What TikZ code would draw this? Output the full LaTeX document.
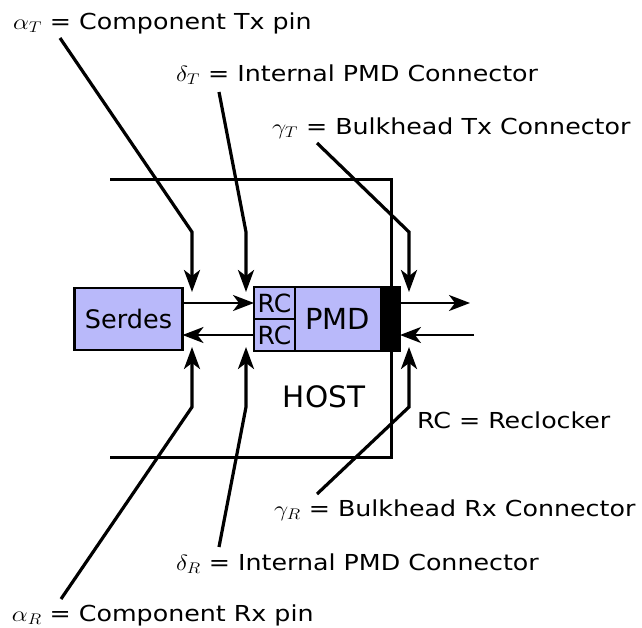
\RequirePackage{fix-cm}
\documentclass[tikz,border=0pt]{standalone}
\usepackage{fontspec}
\setmainfont{DejaVu Sans}
\usetikzlibrary{arrows.meta,positioning}
\definecolor{pmdblue}{RGB}{185,185,250}
\newcommand\widetext[1]{\scalebox{1.15}[1]{#1}}
\begin{document}
\begin{tikzpicture}[x=1pt, y=-1pt,
      every node/.append style={inner sep=0pt, outer sep=0pt},
      box/.style={draw=black, line width=2.2pt, fill=pmdblue},
      pointer/.style={line width=3.2pt, -{Stealth[length=22pt,width=16pt,inset=6pt]}},
      flow/.style={line width=2.3pt, -{Stealth[length=21pt,width=16pt,inset=6pt]}}]
    \tikzstyle{note} = [anchor=base west, font=\fontsize{22}{26}\selectfont]
    \useasboundingbox (0,0) rectangle (642,627);
    \draw[line width=3pt] (110,179) -- (391,179) -- (391,457) -- (110,457);
    \node (serdes) [box, minimum width=108pt, minimum height=62pt,
      font=\fontsize{25.5}{29}\selectfont] at (128.5,319) {Serdes};
    \node (pmd) [box, minimum width=146pt, minimum height=64pt] at (327,319) {};
    \node (rcT) [box, minimum width=41pt, minimum height=32pt, anchor=north west,
      font=\fontsize{25}{28}\selectfont] at (pmd.north west) {RC};
    \node (rcR) [box, minimum width=41pt, minimum height=32pt, below=0pt of rcT,
      font=\fontsize{25}{28}\selectfont] {RC};
    \node (bulkhead) [draw=black, fill=black, minimum width=20pt, minimum height=64pt,
      anchor=east] at (pmd.east) {};
    \node (pmdtext) [font=\fontsize{29}{33}\selectfont] at (337.5,319) {PMD};
    \draw[line width=3pt] (391,179) -- (391,457);
    \node (host) [font=\fontsize{29.5}{34}\selectfont] at (324,397) {HOST};
    \coordinate (txout) at (470,303);
    \coordinate (rxin) at (474,335);
    \draw[flow] (serdes.east |- rcT) -- (rcT.west);
    \draw[flow] (rcR.west) -- (serdes.east |- rcR);
    \draw[flow] (bulkhead.east |- rcT) -- (txout);
    \draw[flow] (rxin) -- (bulkhead.east |- rcR);
    \node (aT) [note] at (13,29) {\widetext{$\alpha_T$ = Component Tx pin}};
    \node (dT) [note] at (176,81) {\widetext{$\delta_T$ = Internal PMD Connector}};
    \node (gT) [note] at (272,134) {\widetext{$\gamma_T$ = Bulkhead Tx Connector}};
    \node (rcnote) [note] at (417,428) {\widetext{RC = Reclocker}};
    \node (gR) [note] at (274,516) {\widetext{$\gamma_R$ = Bulkhead Rx Connector}};
    \node (dR) [note] at (176,570) {\widetext{$\delta_R$ = Internal PMD Connector}};
    \node (aR) [note] at (12,621) {\widetext{$\alpha_R$ = Component Rx pin}};
    \coordinate (bendT) at (0,232);
    \coordinate (bendR) at (0,407);
    \coordinate (aTpin) at (192,292);
    \coordinate (dTpin) at (246,292);
    \coordinate (gTpin) at (409,292);
    \coordinate (aRpin) at (192,347);
    \coordinate (dRpin) at (246,347);
    \coordinate (gRpin) at (409,347);
    \coordinate (aTend) at (60,38);
    \coordinate (dTend) at (219,92);
    \coordinate (gTend) at (317,143);
    \coordinate (aRend) at (61,599);
    \coordinate (dRend) at (219,547);
    \coordinate (gRend) at (317,494);
    \draw[pointer] (aTend) -- (aTpin |- bendT) -- (aTpin);
    \draw[pointer] (dTend) -- (dTpin |- bendT) -- (dTpin);
    \draw[pointer] (gTend) -- (gTpin |- bendT) -- (gTpin);
    \draw[pointer] (aRend) -- (aRpin |- bendR) -- (aRpin);
    \draw[pointer] (dRend) -- (dRpin |- bendR) -- (dRpin);
    \draw[pointer] (gRend) -- (gRpin |- bendR) -- (gRpin);
\end{tikzpicture}
\end{document}
